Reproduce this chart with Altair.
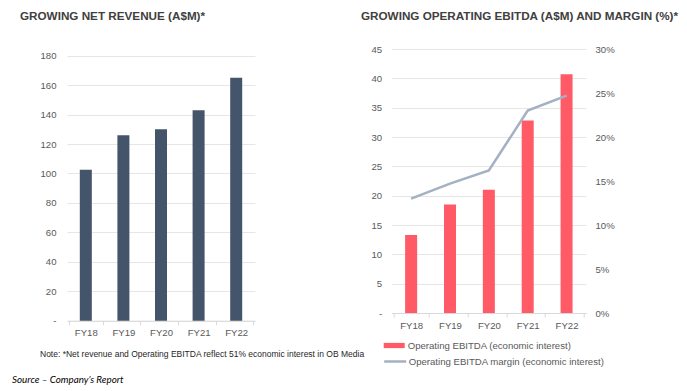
import altair as alt
import pandas as pd

years = ["FY18", "FY19", "FY20", "FY21", "FY22"]
revenue = [102.5, 126, 130, 143, 165]
ebitda = [13.3, 18.5, 21.0, 32.8, 40.7]
margin = [0.130, 0.147, 0.162, 0.230, 0.247]
rev_ticks = [0, 20, 40, 60, 80, 100, 120, 140, 160, 180]
ebitda_ticks = [0, 5, 10, 15, 20, 25, 30, 35, 40, 45]
margin_ticks = [0, 0.05, 0.10, 0.15, 0.20, 0.25, 0.30]

title_left = "GROWING NET REVENUE (A$M)*"
title_right = "GROWING OPERATING EBITDA (A$M) AND MARGIN (%)*"
note = "Note: *Net revenue and Operating EBITDA reflect 51% economic interest in OB Media"
source = "Source \u2013 Company\u2019s Report"
bar_label = "Operating EBITDA (economic interest)"
line_label = "Operating EBITDA margin (economic interest)"

df = pd.DataFrame({
    "year": years,
    "revenue": revenue,
    "ebitda": ebitda,
    "margin": margin,
    "bar": [bar_label] * 5,
    "line": [line_label] * 5,
})
df_note = pd.DataFrame({"t": [note]})
df_src = pd.DataFrame({"t": [source]})

FONT = "Liberation Sans"
LBL = "#595959"
GRID = "#E6E6E6"

x_axis = alt.Axis(title=None, labelAngle=0, labelFont=FONT, labelFontSize=9.6,
                  labelColor=LBL, labelPadding=3, domainColor="#D9D9D9",
                  tickColor="#D9D9D9", tickSize=4, tickBand="extent", grid=False)

def title(text, dx, offset):
    return alt.TitleParams(text=text, anchor="start", frame="group", dx=dx,
                           font=FONT, fontSize=11.7, fontWeight="bold",
                           color="#404040", offset=offset)

# Left chart
left_bars = alt.Chart(df).mark_bar(size=12, color="#44546A").encode(
    x=alt.X("year:N", sort=years, axis=x_axis),
    y=alt.Y("revenue:Q",
            scale=alt.Scale(domain=[0, 184.55], nice=False, zero=True),
            axis=alt.Axis(title=None, values=rev_ticks, domain=False, ticks=False,
                          gridColor=GRID, labelFont=FONT, labelFontSize=9.6,
                          labelColor=LBL, labelPadding=11,
                          labelExpr="datum.value == 0 ? '-' : datum.label")),
)
note_text = alt.Chart(df_note).mark_text(
    align="left", baseline="middle", font=FONT, fontSize=8.5, color="#262626"
).encode(x=alt.value(-27), y=alt.value(305), text="t:N")
src_text = alt.Chart(df_src).mark_text(
    align="left", baseline="middle", font="Lato", fontStyle="italic",
    fontSize=9.8, color="#000000"
).encode(x=alt.value(-55), y=alt.value(331), text="t:N")

left = alt.layer(left_bars, note_text, src_text).properties(
    width=188, height=271.7, title=title(title_left, -47, 26))

# Right chart
right_bars = alt.Chart(df).mark_bar(size=12).encode(
    x=alt.X("year:N", sort=years, axis=x_axis),
    y=alt.Y("ebitda:Q", scale=alt.Scale(domain=[0, 45], nice=False),
            axis=alt.Axis(title=None, values=ebitda_ticks, domain=False, ticks=False,
                          gridColor=GRID, labelFont=FONT, labelFontSize=9.6,
                          labelColor=LBL, labelPadding=10,
                          labelExpr="datum.value == 0 ? '-' : datum.label")),
    color=alt.Color("bar:N", scale=alt.Scale(domain=[bar_label], range=["#FF5A66"]),
                    legend=alt.Legend(orient="none", legendX=-9, legendY=285,
                                      title=None, padding=0, labelLimit=300,
                                      symbolType="M-1,-0.25H1V0.25H-1Z",
                                      symbolSize=441, symbolOpacity=1,
                                      labelFont=FONT, labelFontSize=9.6,
                                      labelColor=LBL, labelOffset=2)),
)
right_line = alt.Chart(df).mark_line(strokeWidth=2.5).encode(
    x=alt.X("year:N", sort=years),
    y=alt.Y("margin:Q", scale=alt.Scale(domain=[0, 0.30], nice=False),
            axis=alt.Axis(title=None, orient="right", values=margin_ticks,
                          format=".0%", domain=False, ticks=False, grid=False,
                          labelFont=FONT, labelFontSize=9.6, labelColor=LBL,
                          labelPadding=9)),
    stroke=alt.Stroke("line:N", scale=alt.Scale(domain=[line_label], range=["#A3B1C3"]),
                      legend=alt.Legend(orient="none", legendX=-9, legendY=300,
                                        title=None, padding=0, labelLimit=300,
                                        symbolType="stroke",
                                        symbolSize=484, symbolStrokeWidth=2.5,
                                        labelFont=FONT, labelFontSize=9.6,
                                        labelColor=LBL, labelOffset=1)),
)
right = alt.layer(right_bars, right_line).resolve_scale(y="independent").properties(
    width=194.3, height=264, title=title(title_right, -30.7, 21))

chart = alt.hconcat(left, right, spacing=136.7, bounds="flush").resolve_scale(
    color="independent", stroke="independent"
).properties(padding={"left": 4, "top": 3, "right": 0, "bottom": 0}).configure_view(stroke=None)

chart.save("out.html", embed_options={"renderer": "svg", "actions": False})
